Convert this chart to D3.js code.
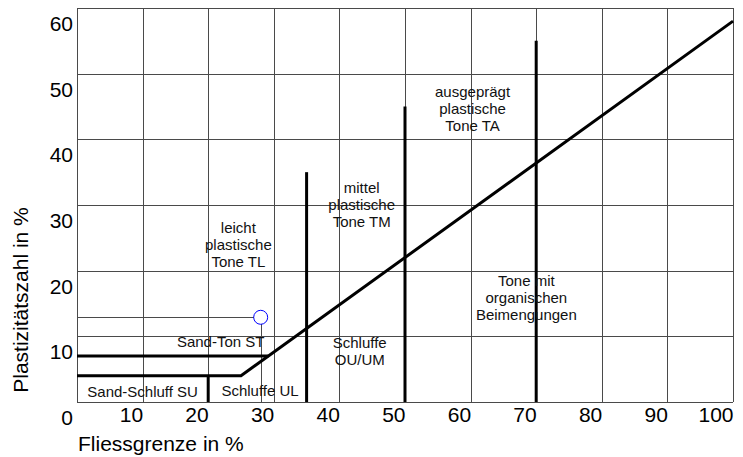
<!DOCTYPE html>
<html>
<head>
<meta charset="utf-8">
<script src="https://cdn.jsdelivr.net/npm/d3@7"></script>
<style>
    body { margin: 0; background: #fff; }
    svg { display: block; font-family: "Liberation Sans", Arial, sans-serif; }
</style>
</head>
<body>
<svg id="chart" width="743" height="457"></svg>
<script>
// Axis ticks
const xTicks = [10, 20, 30, 40, 50, 60, 70, 80, 90, 100];
const yTicks = [0, 10, 20, 30, 40, 50, 60];

// A-line with the low plasticity band (Fliessgrenze, Plastizitaetszahl)
const aLineWl = [0, 25, 100];
const aLineIp = [4, 4, 58];
const stLineWl = [0, 29.2];
const stLineIp = [7, 7];

// Vertical dividers: Fliessgrenze and top of the line
const dividerWl = [20, 35, 50, 70];
const dividerTop = [4, 35, 45, 55];

// Sample point
const sampleWl = [28];
const sampleIp = [12.9];

// Zone labels and where they sit (in axis units)
const zoneNames = [
    ["ausgeprägt", "plastische", "Tone TA"],
    ["mittel", "plastische", "Tone TM"],
    ["leicht", "plastische", "Tone TL"],
    ["Tone mit", "organischen", "Beimengungen"],
    ["Sand-Ton ST"],
    ["Schluffe", "OU/UM"],
    ["Sand-Schluff SU"],
    ["Schluffe UL"]
];
const zoneWl = [60.3, 43.4, 24.6, 68.5, 21.9, 43.1, 10.0, 27.9];
const zoneIp = [44.7, 30.0, 23.9, 15.9, 9.15, 7.8, 1.5, 1.7];

const svg = d3.select("#chart");
const margin = { top: 8, right: 10, bottom: 55, left: 77 };
const width = +svg.attr("width");
const height = +svg.attr("height");

const x = d3.scaleLinear().domain([0, 100]).range([margin.left, width - margin.right]);
const y = d3.scaleLinear().domain([0, 60]).range([height - margin.bottom, margin.top]);

const gridColor = "#4a4a4a";

// Grid
const grid = svg.append("g").attr("shape-rendering", "crispEdges");
grid.selectAll(".vgrid")
    .data([0].concat(xTicks))
    .enter()
    .append("line")
    .attr("x1", d => Math.round(x(d)) + 0.5)
    .attr("x2", d => Math.round(x(d)) + 0.5)
    .attr("y1", y(0))
    .attr("y2", y(60))
    .attr("stroke", gridColor);
grid.selectAll(".hgrid")
    .data(yTicks)
    .enter()
    .append("line")
    .attr("x1", x(0))
    .attr("x2", x(100))
    .attr("y1", d => Math.round(y(d)) + 0.5)
    .attr("y2", d => Math.round(y(d)) + 0.5)
    .attr("stroke", gridColor);

// Thin guide lines to the sample point
grid.append("line")
    .attr("x1", x(0))
    .attr("x2", x(sampleWl[0]) - 7)
    .attr("y1", Math.round(y(sampleIp[0])) + 0.5)
    .attr("y2", Math.round(y(sampleIp[0])) + 0.5)
    .attr("stroke", gridColor);
grid.append("line")
    .attr("x1", Math.round(x(sampleWl[0])) + 0.5)
    .attr("x2", Math.round(x(sampleWl[0])) + 0.5)
    .attr("y1", y(sampleIp[0]) + 7)
    .attr("y2", y(0))
    .attr("stroke", gridColor);

// Tick labels
const xAxis = svg.append("g")
    .attr("transform", `translate(0,${y(0)})`)
    .call(d3.axisBottom(x).tickValues(xTicks).tickSize(0));
xAxis.select(".domain").remove();
xAxis.selectAll("text")
    .attr("text-anchor", "end")
    .attr("y", 13)
    .attr("dy", "0.35em")
    .attr("fill", "#000")
    .style("font-size", "21px")
    .style("font-family", "'Liberation Sans', Arial, sans-serif");

const yAxis = svg.append("g")
    .attr("transform", `translate(${x(0)},0)`)
    .call(d3.axisLeft(y).tickValues(yTicks).tickSize(0));
yAxis.select(".domain").remove();
yAxis.selectAll("text")
    .attr("x", -4)
    .attr("y", 15)
    .attr("dy", "0.35em")
    .attr("fill", "#000")
    .style("font-size", "21px")
    .style("font-family", "'Liberation Sans', Arial, sans-serif");

// Thick boundary lines
const line = d3.line().x(d => x(d[0])).y(d => y(d[1]));
svg.append("path")
    .attr("d", line(d3.zip(aLineWl, aLineIp)))
    .attr("fill", "none")
    .attr("stroke", "#000")
    .attr("stroke-width", 3);
svg.append("path")
    .attr("d", line(d3.zip(stLineWl, stLineIp)))
    .attr("fill", "none")
    .attr("stroke", "#000")
    .attr("stroke-width", 3);
svg.selectAll(".divider")
    .data(d3.zip(dividerWl, dividerTop))
    .enter()
    .append("line")
    .attr("x1", d => x(d[0]))
    .attr("x2", d => x(d[0]))
    .attr("y1", y(0))
    .attr("y2", d => y(d[1]))
    .attr("stroke", "#000")
    .attr("stroke-width", 3);

// Sample point
svg.selectAll(".sample")
    .data(d3.zip(sampleWl, sampleIp))
    .enter()
    .append("circle")
    .attr("cx", d => x(d[0]))
    .attr("cy", d => y(d[1]))
    .attr("r", 7)
    .attr("fill", "none")
    .attr("stroke", "#0000ff")
    .attr("stroke-width", 1);

// Zone labels
svg.selectAll(".zone")
    .data(zoneNames)
    .enter()
    .append("text")
    .attr("text-anchor", "middle")
    .attr("fill", "#111")
    .style("font-size", "15px")
    .each(function (lines, i) {
        const t = d3.select(this);
        const lh = 17;
        const y0 = y(zoneIp[i]) - (lines.length - 1) * lh / 2;
        lines.forEach((s, k) => {
            t.append("tspan")
                .attr("x", x(zoneWl[i]))
                .attr("y", y0 + k * lh)
                .attr("dy", "0.35em")
                .text(s);
        });
    });

// Axis titles
svg.append("text")
    .attr("x", 78)
    .attr("y", 444)
    .attr("dy", "0.35em")
    .style("font-size", "21px")
    .text("Fliessgrenze in %");

svg.append("text")
    .attr("transform", "translate(21,300) rotate(-90)")
    .attr("text-anchor", "middle")
    .attr("dy", "0.35em")
    .style("font-size", "21px")
    .text("Plastizitätszahl in %");
</script>
</body>
</html>
